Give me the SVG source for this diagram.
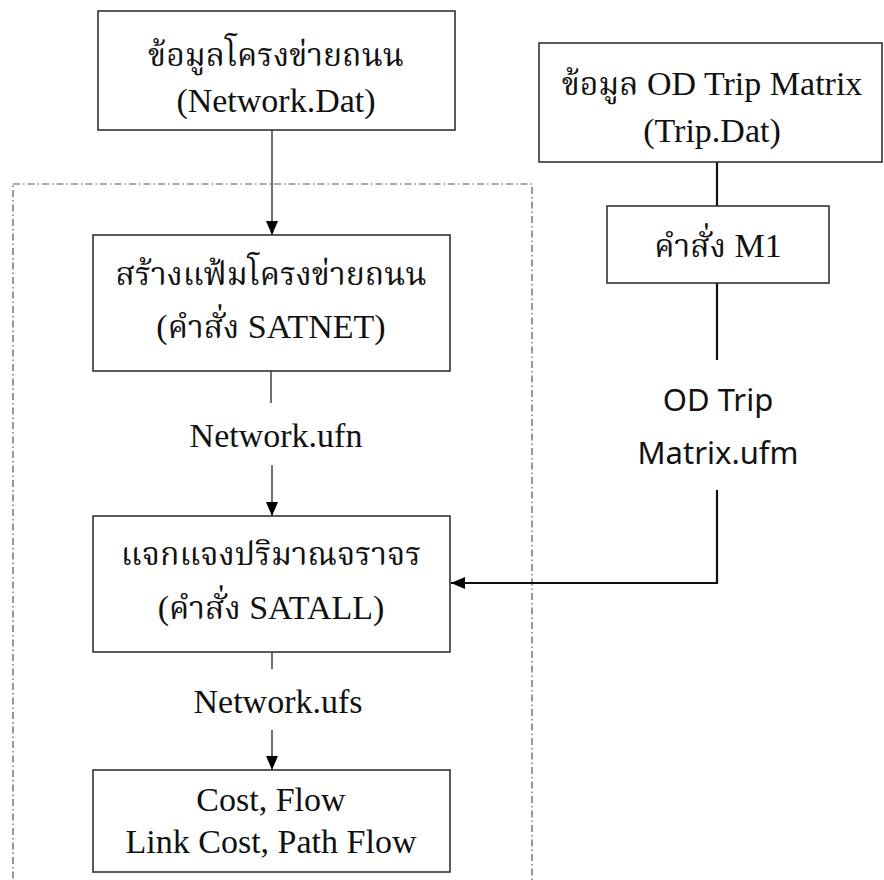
<svg xmlns="http://www.w3.org/2000/svg" width="884" height="880" viewBox="0 0 884 880">
  <defs>
    <marker id="arrowBig" viewBox="0 0 14 12" refX="14" refY="6" markerWidth="14" markerHeight="12" markerUnits="userSpaceOnUse" orient="auto">
      <path d="M0,0 L14,6 L0,12 z" fill="#000"/>
    </marker>
  </defs>
  <style>
    .box { fill: #fff; stroke: #333; stroke-width: 1.6; }
    .t { font-family: "Liberation Serif", "Norasi", "Kinnari", "Noto Serif Thai", "Times New Roman", serif; font-size: 34px; fill: #111; text-anchor: middle; }
    .th { font-size: 32px; }
    .la { font-family: "Liberation Serif", "Times New Roman", serif; font-size: 34px; }
    .s { font-family: "Noto Sans", "Open Sans", sans-serif; font-size: 31px; fill: #111; text-anchor: middle; }
    .ln { stroke: #222; stroke-width: 1.3; fill: none; }
    .lnb { stroke: #111; stroke-width: 2.2; fill: none; }
    .frame { fill: none; stroke: #555; stroke-width: 1.2; stroke-dasharray: 7 3 1.5 3; }
  </style>
  <rect width="884" height="880" fill="#fff"/>

  <!-- dash-dot frame around the processing steps -->
  <rect class="frame" x="13" y="184" width="519" height="720"/>

  <g id="connectors">
    <line class="ln" x1="272" y1="130" x2="272" y2="235" marker-end="url(#arrowBig)"/>
    <line class="ln" x1="271" y1="371" x2="271" y2="403"/>
    <line class="ln" x1="272" y1="465" x2="272" y2="516" marker-end="url(#arrowBig)"/>
    <line class="ln" x1="272" y1="652" x2="272" y2="669"/>
    <line class="ln" x1="272" y1="730" x2="272" y2="770" marker-end="url(#arrowBig)"/>
    <line class="lnb" x1="717" y1="162" x2="717" y2="206"/>
    <line class="lnb" x1="717" y1="283" x2="717" y2="360"/>
    <polyline class="lnb" points="717,490 717,583 451,583" marker-end="url(#arrowBig)"/>
  </g>

  <g id="network-data">
    <rect class="box" x="98" y="11" width="357" height="119"/>
    <text class="t th" x="276" y="66">ข้อมูลโครงข่ายถนน</text>
    <text class="t" x="276" y="112">(Network.Dat)</text>
  </g>

  <g id="trip-data">
    <rect class="box" x="539" y="43" width="343" height="119"/>
    <text class="t" x="712" y="95"><tspan class="th">ข้อมูล</tspan><tspan class="la"> OD Trip Matrix</tspan></text>
    <text class="t" x="712" y="142">(Trip.Dat)</text>
  </g>

  <g id="satnet">
    <rect class="box" x="93" y="235" width="357" height="136"/>
    <text class="t th" x="271" y="285">สร้างแฟ้มโครงข่ายถนน</text>
    <text class="t" x="271" y="338"><tspan class="la">(</tspan><tspan class="th">คำสั่ง</tspan><tspan class="la"> SATNET)</tspan></text>
  </g>

  <g id="network-ufn">
    <text class="t" x="276" y="447">Network.ufn</text>
  </g>

  <g id="m1">
    <rect class="box" x="607" y="206" width="222" height="77"/>
    <text class="t" x="718" y="257"><tspan class="th">คำสั่ง</tspan><tspan class="la"> M1</tspan></text>
  </g>

  <g id="trip-matrix-ufm">
    <text class="s" x="718" y="411">OD Trip</text>
    <text class="s" x="718" y="464">Matrix.ufm</text>
  </g>

  <g id="satall">
    <rect class="box" x="93" y="516" width="357" height="136"/>
    <text class="t th" x="271" y="565">แจกแจงปริมาณจราจร</text>
    <text class="t" x="271" y="619"><tspan class="la">(</tspan><tspan class="th">คำสั่ง</tspan><tspan class="la"> SATALL)</tspan></text>
  </g>

  <g id="network-ufs">
    <text class="t" x="278" y="713">Network.ufs</text>
  </g>

  <g id="results">
    <rect class="box" x="93" y="770" width="357" height="102"/>
    <text class="t" x="271" y="811">Cost, Flow</text>
    <text class="t" x="271" y="853">Link Cost, Path Flow</text>
  </g>
</svg>
